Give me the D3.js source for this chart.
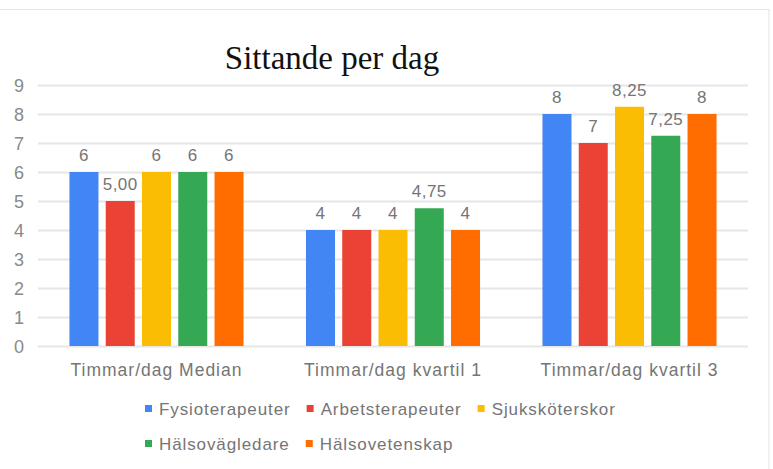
<!DOCTYPE html>
<html>
<head>
<meta charset="utf-8">
<script src="https://cdn.jsdelivr.net/npm/d3@7"></script>
<style>
  body { margin: 0; background: #fff; }
  svg { display: block; font-family: "Liberation Sans", Arial, sans-serif; }
</style>
</head>
<body>
<svg id="chart" width="773" height="469"></svg>
<script>
// data
var categories = ["Timmar/dag Median", "Timmar/dag kvartil 1", "Timmar/dag kvartil 3"];
var seriesNames = ["Fysioterapeuter", "Arbetsterapeuter", "Sjuksköterskor", "Hälsovägledare", "Hälsovetenskap"];
var seriesValues = [
  [6, 4, 8],      // Fysioterapeuter
  [5, 4, 7],      // Arbetsterapeuter
  [6, 4, 8.25],   // Sjuksköterskor
  [6, 4.75, 7.25],// Hälsovägledare
  [6, 4, 8]       // Hälsovetenskap
];
// labels as they are printed on the bars
var valueLabels = [
  ["6", "4", "8"],
  ["5,00", "4", "7"],
  ["6", "4", "8,25"],
  ["6", "4,75", "7,25"],
  ["6", "4", "8"]
];
var yTicks = [0, 1, 2, 3, 4, 5, 6, 7, 8, 9];
var colors = ["#4285f4", "#ea4335", "#fbbc04", "#34a853", "#ff6d01"];

(function() {
  var svg = d3.select("#chart");
  var textGray = "#757575";

  // frame
  svg.append("rect")
    .attr("x", -1).attr("y", 9.5)
    .attr("width", 770).attr("height", 470)
    .attr("fill", "none")
    .attr("stroke", "#e3e3e3");

  var plotLeft = 38, plotRight = 748, plotTop = 85, plotBottom = 346;

  var y = d3.scaleLinear().domain([0, 9]).range([plotBottom, plotTop]);
  var x0 = d3.scaleBand().domain(categories).range([plotLeft, plotRight])
    .paddingInner(0.264).paddingOuter(0.133);
  var x1 = d3.scaleBand().domain(d3.range(seriesNames.length))
    .range([0, x0.bandwidth()]).paddingInner(0.2);

  // title
  svg.append("text")
    .attr("x", 332).attr("y", 69)
    .attr("text-anchor", "middle")
    .style("font-family", "'Liberation Serif', 'Times New Roman', serif")
    .style("font-size", "33px")
    .attr("fill", "#111")
    .text("Sittande per dag");

  // grid + y labels
  var yAxis = d3.axisLeft(y).tickValues(yTicks).tickSize(-(plotRight - plotLeft)).tickPadding(14);
  var gy = svg.append("g").attr("transform", "translate(" + plotLeft + ",0)").call(yAxis);
  gy.select(".domain").remove();
  gy.selectAll(".tick line").attr("stroke", "#e6e6e6").attr("stroke-width", 2);
  gy.selectAll(".tick text")
    .attr("fill", "#8a8a8a")
    .style("font-size", "18px")
    .attr("dy", "0.35em");

  // x labels
  var xAxis = d3.axisBottom(x0).tickSize(0).tickPadding(0);
  var gx = svg.append("g").attr("transform", "translate(0," + plotBottom + ")").call(xAxis);
  gx.select(".domain").remove();
  gx.selectAll(".tick text")
    .attr("fill", textGray)
    .attr("y", 30).attr("dy", 0)
    .style("font-size", "17.5px")
    .style("letter-spacing", "1px");

  // bars
  var rows = [];
  seriesValues.forEach(function(vals, s) {
    vals.forEach(function(v, c) {
      rows.push({ s: s, c: c, v: v, label: valueLabels[s][c] });
    });
  });

  var g = svg.append("g");
  g.selectAll("rect.bar").data(rows).enter().append("rect")
    .attr("class", "bar")
    .attr("x", function(d) { return x0(categories[d.c]) + x1(d.s); })
    .attr("y", function(d) { return y(d.v); })
    .attr("width", x1.bandwidth())
    .attr("height", function(d) { return plotBottom - y(d.v); })
    .attr("fill", function(d) { return colors[d.s]; });

  g.selectAll("text.val").data(rows).enter().append("text")
    .attr("class", "val")
    .attr("x", function(d) { return x0(categories[d.c]) + x1(d.s) + x1.bandwidth() / 2; })
    .attr("y", function(d) { return y(d.v) - 11; })
    .attr("text-anchor", "middle")
    .attr("fill", textGray)
    .style("font-size", "17px")
    .style("letter-spacing", "0.5px")
    .text(function(d) { return d.label; });

  // legend, wraps into two rows like the original
  var legendRows = [[0, 1, 2], [3, 4]];
  var legend = svg.append("g").style("font-size", "17px").style("letter-spacing", "0.9px");
  legendRows.forEach(function(items, r) {
    var cx = 145, cy = 409 + r * 35;
    items.forEach(function(s) {
      legend.append("rect")
        .attr("x", cx).attr("y", cy - 4)
        .attr("width", 7).attr("height", 7)
        .attr("fill", colors[s]);
      var t = legend.append("text")
        .attr("x", cx + 14).attr("y", cy)
        .attr("dy", "0.35em")
        .attr("fill", textGray)
        .text(seriesNames[s]);
      cx += 14 + t.node().getComputedTextLength() + 16;
    });
  });
})();
</script>
</body>
</html>
